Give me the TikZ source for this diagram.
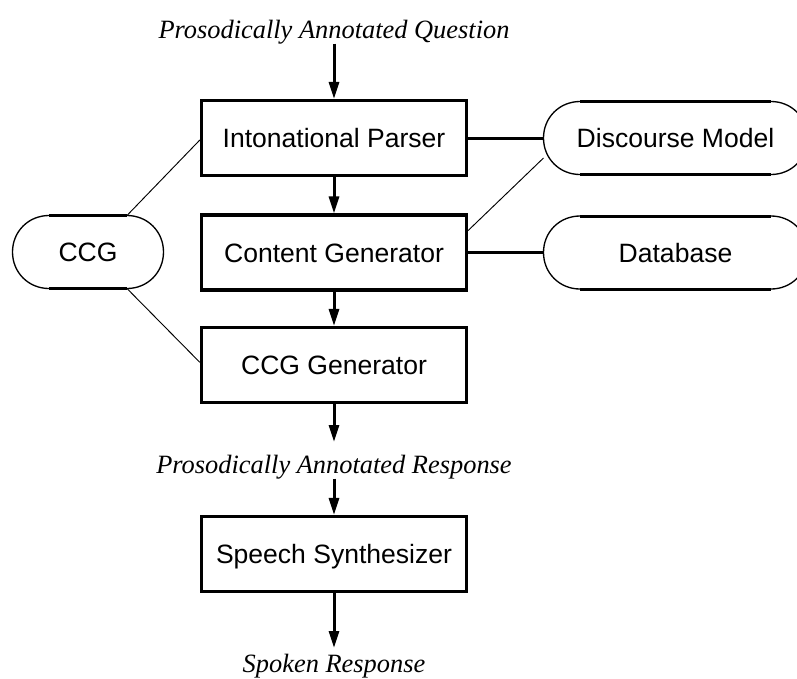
\documentclass[tikz,border=0pt]{standalone}
\usepackage{fontspec}
\setmainfont{Liberation Serif}
\setsansfont{Liberation Sans}
\usetikzlibrary{arrows.meta,calc}
\newcommand\stadline[1]{%
  \draw[stadcurve] ([xshift=27.4pt]#1.north west) .. controls ([xshift=12pt]#1.north west) and ([yshift=-12pt]#1.north west) .. (#1.west)
     .. controls ([yshift=12pt]#1.south west) and ([xshift=12pt]#1.south west) .. ([xshift=27.4pt]#1.south west);
  \draw[stadcurve] ([xshift=-27.4pt]#1.north east) .. controls ([xshift=-12pt]#1.north east) and ([yshift=-12pt]#1.north east) .. (#1.east)
     .. controls ([yshift=12pt]#1.south east) and ([xshift=-12pt]#1.south east) .. ([xshift=-27.4pt]#1.south east);
  \draw[stadflat] ([xshift=27.4pt]#1.north west) -- ([xshift=-27.4pt]#1.north east);
  \draw[stadflat] ([xshift=27.4pt]#1.south west) -- ([xshift=-27.4pt]#1.south east);}
\begin{document}
\begin{tikzpicture}[x=0.75pt,y=0.75pt,
  sanslbl/.style={font=\sffamily\fontsize{19.9pt}{22pt}\selectfont, text height=14.25pt, text depth=0pt},
  box/.style={sanslbl, draw, line width=2.5pt, rectangle, minimum width=198.75pt, minimum height=56.25pt, inner sep=0pt},
  stad/.style={sanslbl, rectangle, minimum height=54.75pt, inner sep=0pt, outer sep=0pt},
  stadcurve/.style={line width=1pt},
  stadflat/.style={line width=2.25pt},
  lbl/.style={font=\fontsize{19.8pt}{22pt}\selectfont\itshape, inner sep=0pt, outer sep=0pt, anchor=base},
  arr/.style={line width=2.25pt, -{Triangle[length=12.75pt,width=7.5pt]}},
  conn/.style={line width=2.25pt},
  thinln/.style={line width=0.7pt}]
\useasboundingbox (0,0) rectangle (797,-679);
\clip (0,0) rectangle (797,-679);

% texts
\node[lbl] (qtext) at (334,-38) {Prosodically Annotated Question};
\node[lbl] (rtext) at (334,-473) {Prosodically Annotated Response};
\node[lbl] (stext) at (334,-672) {Spoken Response};

% boxes
\node[box] (ip) at (334,-138) {Intonational Parser};
\node[box] (cg) at (334,-252.5) {Content Generator};
\node[box] (ccgg) at (334,-365) {CCG Generator};
\node[box] (ss) at (334,-554) {Speech Synthesizer};

% stadiums
\node[stad, minimum width=113.25pt] (ccg) at (88,-252) {CCG};
\node[stad, minimum width=198pt] (dm) at (675.5,-138) {Discourse Model};
\node[stad, minimum width=198pt] (db) at (675.5,-252.5) {Database};
\stadline{ccg}
\stadline{dm}
\stadline{db}

% free ends
\coordinate (r1) at (334,-442);
\coordinate (s1) at (334,-648);

% arrows
\draw[arr] (qtext) -- (ip);
\draw[arr] (ip) -- (cg);
\draw[arr] (cg) -- (ccgg);
\draw[arr] (ccgg) -- (r1);
\draw[arr] (rtext) -- (ss);
\draw[arr] (ss) -- (s1);

% connections
\draw[conn] (ip) -- (dm);
\draw[conn] (cg) -- (db);
\draw[thinln] ([yshift=-1.5pt]ip.west) -- ([xshift=-27.4pt]ccg.north east);
\draw[thinln] ([xshift=-27.4pt]ccg.south east) -- ([yshift=2pt]ccgg.west);
\draw[thinln] ([yshift=16.5pt]cg.east) -- ([yshift=-15pt]dm.west);
\end{tikzpicture}
\end{document}
